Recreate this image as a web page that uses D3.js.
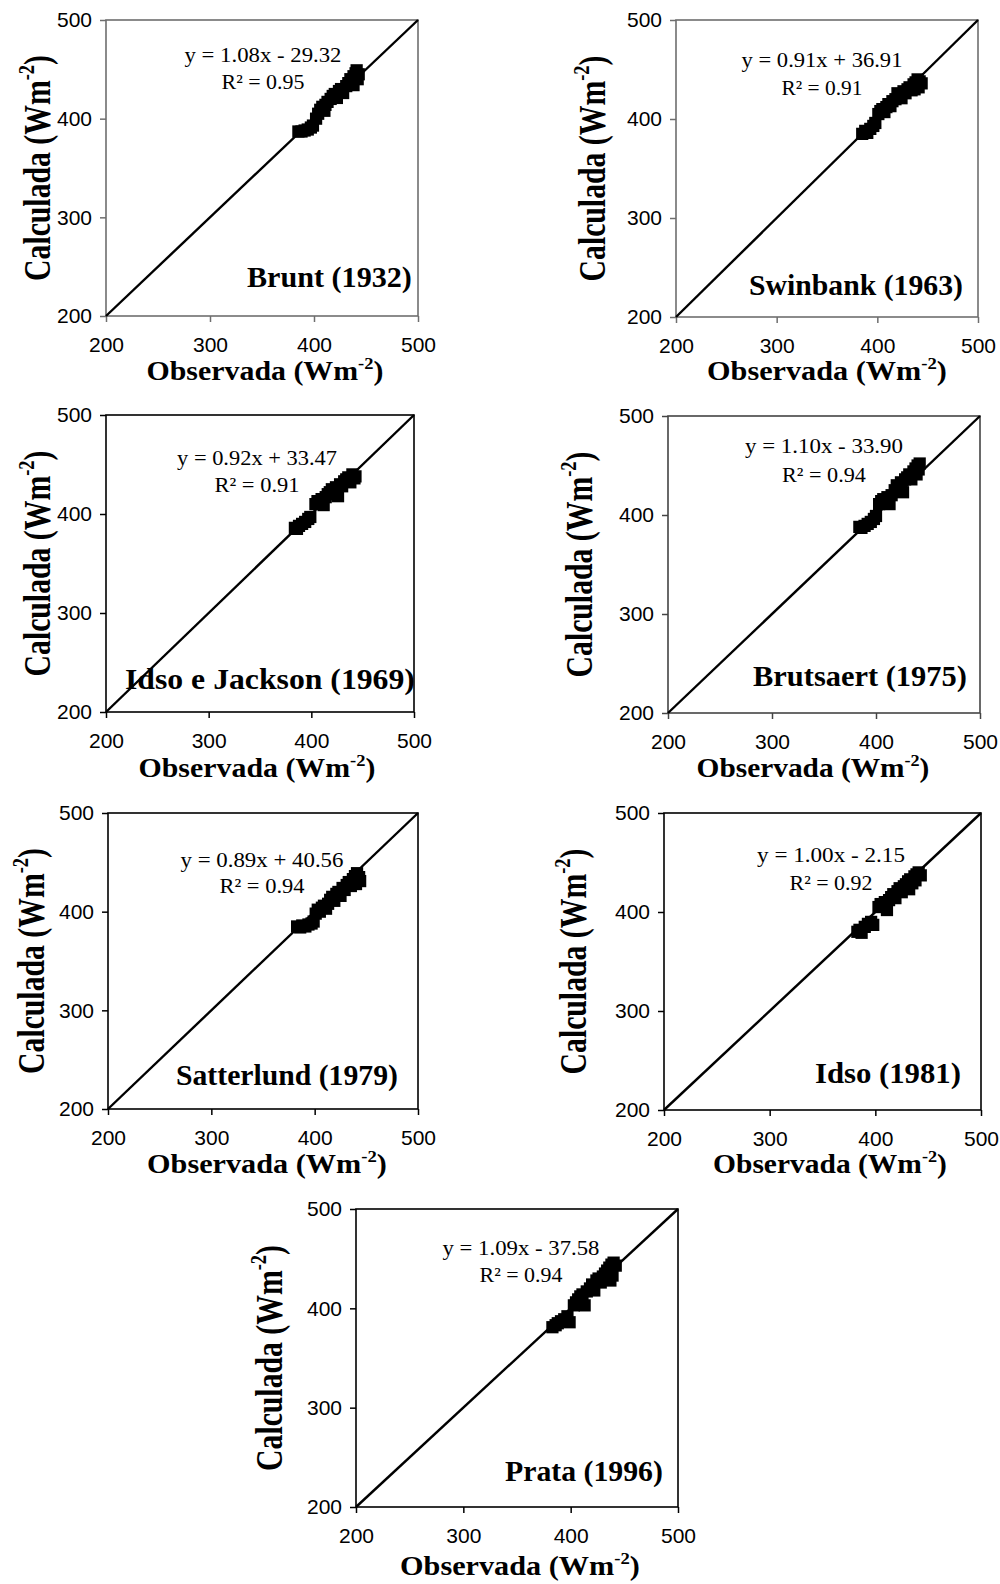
<!DOCTYPE html>
<html><head><meta charset="utf-8">
<script src="https://cdn.jsdelivr.net/npm/d3@7"></script>
<style>body{margin:0;background:#fff}</style>
</head><body>
<script>
// ---------------- DATA ----------------
const panelNames = ["Brunt (1932)", "Swinbank (1963)", "Idso e Jackson  (1969)", "Brutsaert (1975)",
                    "Satterlund (1979)", "Idso (1981)", "Prata (1996)"];
const equations = ["y = 1.08x - 29.32", "y = 0.91x + 36.91", "y = 0.92x + 33.47", "y = 1.10x - 33.90",
                   "y = 0.89x + 40.56", "y = 1.00x - 2.15", "y = 1.09x - 37.58"];
const r2Labels = ["R\u00B2 = 0.95", "R\u00B2 = 0.91", "R\u00B2 = 0.91", "R\u00B2 = 0.94",
                  "R\u00B2 = 0.94", "R\u00B2 = 0.92", "R\u00B2 = 0.94"];
const xTicks = [200, 300, 400, 500];
const yTicks = [200, 300, 400, 500];
const axisDomain = [200, 500];
const xTitle = "Observada (Wm";
const yTitle = "Calculada (Wm";
const unitExp = "-2";

// [observada, calculada]
const ptsBrunt = [[385,387],[388,387],[391,388],[394,389],[397,391],[399,393],[402,400],[404,405],[406,409],
  [408,412],[410,408],[411,414],[413,417],[416,420],[418,423],[420,425],[422,421],[424,428],[426,430],[428,426],
  [431,433],[433,436],[435,440],[437,438],[438,443],[440,446],[441,449],[442,440],[443,445],[438,434]];
const ptsSwinbank = [[385,385],[388,388],[390,386],[393,390],[396,393],[398,396],[401,405],[403,408],[405,410],
  [407,407],[409,412],[411,415],[413,413],[415,418],[418,420],[420,426],[422,424],[424,421],[426,428],[428,426],
  [430,430],[432,432],[434,429],[436,435],[438,437],[440,440],[442,438],[444,436],[441,432],[437,430]];
const ptsIdsoJackson = [[384,386],[386,385],[388,388],[391,390],[394,392],[397,395],[399,397],[404,410],[406,413],
  [408,411],[410,415],[412,409],[414,417],[416,420],[418,422],[420,425],[422,423],[424,427],[426,418],[428,430],
  [430,428],[432,433],[434,435],[436,437],[438,432],[440,440],[442,436],[443,438]];
const ptsBrutsaert = [[384,388],[386,387],[389,389],[392,391],[395,393],[398,396],[400,399],[403,411],[405,414],
  [407,416],[409,413],[411,418],[413,411],[415,420],[418,425],[420,430],[422,427],[424,433],[426,423],[428,436],
  [430,438],[432,441],[434,436],[436,444],[438,447],[440,450],[442,452],[439,441],[441,446]];
const ptsSatterlund = [[383,385],[386,384],[388,386],[391,385],[394,387],[397,388],[399,390],[401,398],[403,402],
  [405,400],[407,404],[409,406],[411,403],[413,408],[415,412],[417,415],[419,411],[421,418],[423,420],[425,416],
  [427,424],[429,422],[431,427],[433,430],[435,426],[437,433],[439,436],[441,439],[443,435],[444,431],[440,428]];
const ptsIdso = [[383,380],[385,382],[387,379],[390,385],[393,388],[396,390],[398,387],[403,405],[405,408],
  [407,406],[409,410],[411,402],[413,412],[415,415],[417,418],[419,414],[421,421],[423,424],[425,420],[427,426],
  [429,428],[431,431],[433,433],[435,429],[437,436],[439,438],[441,440],[443,437],[438,432],[432,423]];
const ptsPrata = [[383,381],[386,383],[388,385],[391,387],[394,389],[397,392],[399,386],[403,403],[405,406],
  [407,409],[409,412],[411,414],[413,403],[415,417],[418,420],[420,424],[422,418],[424,428],[426,430],[428,426],
  [430,432],[432,435],[434,438],[436,441],[438,444],[440,446],[442,443],[437,428],[439,433]];
const panelPoints = [ptsBrunt, ptsSwinbank, ptsIdsoJackson, ptsBrutsaert, ptsSatterlund, ptsIdso, ptsPrata];

// ---------------- LAYOUT ----------------
const layout = [
  {l:106,t:20,r:418,b:316, frame:"#6e6e6e", eq:[263,62,89,157,83], title:[247,287,165], xt:[265,380,237], yt:[50,226]},
  {l:676,t:20,r:978,b:317, frame:"#6e6e6e", eq:[822,67,95,161,81], title:[749,295,214], xt:[827,380,240], yt:[605,226]},
  {l:106,t:415,r:414,b:712, frame:"#000", eq:[257,465,492,160,85], title:[125,689,290], xt:[257,777,237], yt:[50,226]},
  {l:668,t:416,r:980,b:713, frame:"#444", eq:[824,453,482,158,84], title:[753,686,214], xt:[813,777,233], yt:[592,226]},
  {l:108,t:813,r:418,b:1109, frame:"#000", eq:[262,867,893,163,85], title:[176,1085,222], xt:[267,1173,240], yt:[44,226]},
  {l:664,t:813,r:981,b:1110, frame:"#000", eq:[831,862,890,148,83], title:[815,1083,146], xt:[830,1173,234], yt:[586,226]},
  {l:356,t:1209,r:678,b:1507, frame:"#000", eq:[521,1255,1282,157,83], title:[505,1481,158], xt:[520,1575,240], yt:[282,226]}
];

const svg = d3.select("body").append("svg").attr("width", 1000).attr("height", 1584)
  .style("background", "#fff");

const SERIF = "'Liberation Serif', 'Times New Roman', serif";
const SANS = "'Liberation Sans', Arial, sans-serif";

function fitH(t, x, y, w) {
  const bw = t.node().getBBox().width;
  t.attr("transform", `translate(${x},${y}) scale(${w / bw},1)`);
}

function addUnitText(g, base, size) {
  const t = g.append("text").attr("font-family", SERIF).attr("font-weight", "bold")
    .attr("font-size", size).attr("fill", "#000");
  t.append("tspan").text(base);
  t.append("tspan").attr("font-size", size * 0.62).attr("dy", -size * 0.42).text(unitExp);
  t.append("tspan").attr("dy", size * 0.42).text(")");
  return t;
}

panelPoints.forEach((pts, i) => {
  const L = layout[i];
  const x = d3.scaleLinear().domain(axisDomain).range([L.l, L.r]);
  const y = d3.scaleLinear().domain(axisDomain).range([L.b, L.t]);
  const g = svg.append("g");

  // axes
  const ax = g.append("g").attr("transform", `translate(0,${L.b})`)
    .call(d3.axisBottom(x).tickValues(xTicks).tickSize(6).tickPadding(15).tickFormat(d3.format("d")));
  const ay = g.append("g").attr("transform", `translate(${L.l},0)`)
    .call(d3.axisLeft(y).tickValues(yTicks).tickSize(6).tickPadding(8).tickFormat(d3.format("d")));
  [ax, ay].forEach(a => {
    a.select(".domain").remove();
    a.selectAll("line").attr("stroke", L.frame).attr("stroke-width", 1.5);
    a.selectAll("text").attr("font-family", SANS).attr("font-size", 21).attr("fill", "#000");
  });

  // frame
  g.append("rect").attr("x", x(axisDomain[0])).attr("y", y(axisDomain[1]))
    .attr("width", x(axisDomain[1]) - x(axisDomain[0])).attr("height", y(axisDomain[0]) - y(axisDomain[1]))
    .attr("fill", "none").attr("stroke", L.frame).attr("stroke-width", 1.6);

  // 1:1 line
  g.append("line").attr("x1", x(axisDomain[0])).attr("y1", y(axisDomain[0]))
    .attr("x2", x(axisDomain[1])).attr("y2", y(axisDomain[1]))
    .attr("stroke", "#000").attr("stroke-width", 2.4);

  // points
  g.selectAll("path.pt").data(pts).join("path").attr("class", "pt")
    .attr("d", d3.symbol(d3.symbolSquare, 150))
    .attr("transform", d => `translate(${x(d[0])},${y(d[1])})`)
    .attr("fill", "#000");

  // equation
  const [ecx, eb1, eb2, ew1, ew2] = L.eq;
  const e1 = g.append("text").attr("font-family", SERIF).attr("font-size", 20.5)
    .attr("text-anchor", "middle").text(equations[i]);
  fitH(e1, ecx, eb1, ew1);
  const e2 = g.append("text").attr("font-family", SERIF).attr("font-size", 20.5)
    .attr("text-anchor", "middle").text(r2Labels[i]);
  fitH(e2, ecx, eb2, ew2);

  // panel title
  const [tx, tb, tw] = L.title;
  const tt = g.append("text").attr("font-family", SERIF).attr("font-weight", "bold")
    .attr("font-size", 29.5).text(panelNames[i]);
  fitH(tt, tx, tb, tw);

  // x title
  const [xcx, xb, xw] = L.xt;
  const xtT = addUnitText(g, xTitle, 27).attr("text-anchor", "middle");
  fitH(xtT, xcx, xb, xw);

  // y title
  const [ybx, ylen] = L.yt;
  const ytT = addUnitText(g, yTitle, 30).attr("text-anchor", "middle");
  const bw = ytT.node().getBBox().width;
  ytT.attr("transform", `translate(${ybx},${(L.t + L.b) / 2}) rotate(-90) scale(${ylen / bw},1.25)`);
});
</script>
</body></html>
